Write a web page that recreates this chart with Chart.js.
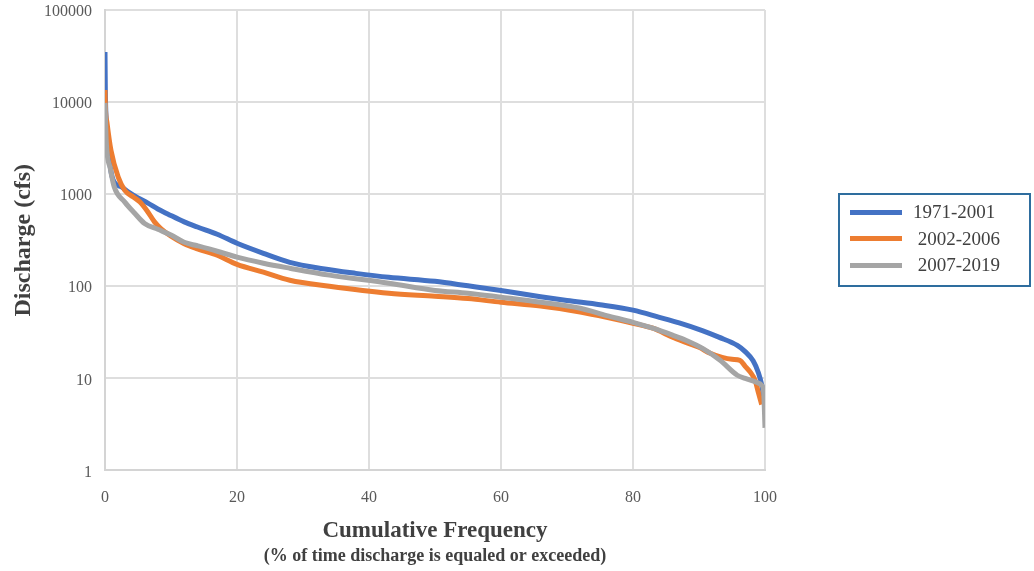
<!DOCTYPE html>
<html>
<head>
<meta charset="utf-8">
<script src="https://cdn.jsdelivr.net/npm/chart.js@4.4.1/dist/chart.umd.min.js"></script>
<style>
  body { margin: 0; background: #fff; }
  #wrap { position: relative; width: 1034px; height: 571px; }
  #legend {
    position: absolute; left: 838px; top: 193px; width: 189px; height: 86px;
    border: 2px solid #2e6d9e; padding-top: 4px; box-sizing: content-box;
    font-family: 'Liberation Serif', serif; font-size: 19px; color: #404040;
  }
  #legend .row { height: 26.5px; display: flex; align-items: center; white-space: pre; }
  #legend .sw { width: 52px; height: 5px; margin-left: 10px; margin-right: 11px; }
</style>
</head>
<body>
<div id="wrap">
  <canvas id="fdc" width="1034" height="571"></canvas>
  <div id="legend"></div>
</div>
<script>
// flow duration curves
const seriesLabels = ['1971-2001', ' 2002-2006', ' 2007-2019'];

const pct1971 = [0, 0.05, 0.2, 0.5, 1.2, 2.5, 3.5, 5, 6.5, 8, 9.5, 12, 14, 17, 20, 24, 28, 33, 38, 43,
  50, 55, 60, 66, 70, 75, 80, 84, 87, 90.5, 93, 95.8, 97, 98.2, 99, 99.5, 100];
const cfs1971 = [35000, 13500, 6000, 3000, 1450, 1200, 1060, 910, 800, 690, 610, 500, 440, 367, 293, 228, 182, 155, 138, 125,
  113, 101, 90, 77, 70, 63, 55, 46, 40, 33, 28, 22.8, 19.5, 15.5, 11.5, 8.5, 5];

const pct2002 = [0, 0.05, 0.3, 0.9, 2, 3, 4.3, 5.3, 6.5, 7.5, 8.5, 10, 12, 14, 17, 20, 24, 28, 34, 43,
  50, 55, 60, 66, 72, 76, 80, 83, 86, 88, 90, 91.7, 93.5, 95, 96.2, 97, 97.8, 98.5, 99, 99.5];
const cfs2002 = [13500, 9000, 6000, 3000, 1530, 1100, 930, 820, 640, 500, 420, 350, 290, 255, 217, 173, 142, 116, 100, 84,
  78, 73.5, 67, 61, 52.5, 46, 39.6, 35, 28, 24.6, 21.7, 18.7, 16.9, 16.1, 15.7, 13.5, 11.6, 9.5, 7, 5.2];

const pct2007 = [0, 0.2, 0.8, 1.4, 3, 4.5, 6, 8, 10, 12, 14, 17, 20, 24, 28, 34, 43, 50, 55, 60,
  66, 72, 76, 80, 83, 86, 88, 90.6, 93.2, 95.8, 97, 98.8, 99.5, 99.8, 100];
const cfs2007 = [9800, 3600, 1900, 1200, 820, 620, 480, 415, 360, 300, 275, 240, 207, 178, 157, 132, 108, 90, 84, 76,
  67, 57.6, 48, 40.6, 35, 29.4, 25.9, 21, 15.7, 10.8, 10, 9, 8.4, 7, 2.9];

const xTicks = [0, 20, 40, 60, 80, 100];
const yTicks = [1, 10, 100, 1000, 10000, 100000];

const colors = ['#4472c4', '#ed7d31', '#a5a5a5'];

Chart.defaults.font.family = "'Liberation Serif', serif";

const toPoints = (xs, ys) => xs.map((x, i) => ({ x: x, y: ys[i] }));
const seriesData = [
  toPoints(pct1971, cfs1971),
  toPoints(pct2002, cfs2002),
  toPoints(pct2007, cfs2007),
];

const datasets = seriesData.map((d, i) => ({
  label: seriesLabels[i].trim(),
  data: d,
  borderColor: colors[i],
  borderWidth: 5,
  pointRadius: 0,
  fill: false,
  cubicInterpolationMode: 'monotone',
  // Excel draws later series on top
  order: seriesData.length - i,
}));

new Chart(document.getElementById('fdc'), {
  type: 'line',
  data: { datasets: datasets },
  options: {
    responsive: false,
    animation: false,
    layout: { padding: { left: 0, right: 269, top: 0, bottom: 0 } },
    plugins: {
      legend: { display: false },
      tooltip: { enabled: false },
      subtitle: {
        display: true,
        text: '(% of time discharge is equaled or exceeded)',
        position: 'bottom',
        fullSize: false,
        color: '#404040',
        font: { size: 18, weight: 'bold' },
        padding: { top: 0, bottom: 4 },
      },
    },
    scales: {
      x: {
        type: 'linear',
        min: 0,
        max: 100,
        afterBuildTicks: s => { s.ticks = xTicks.map(v => ({ value: v })); },
        afterFit: s => { s.height = 75; },
        grid: { color: '#dedede', lineWidth: 2, drawTicks: false },
        border: { color: '#d4d4d4', width: 2 },
        ticks: { padding: 18, color: '#595959', font: { size: 16 } },
        title: {
          display: true,
          text: 'Cumulative Frequency',
          color: '#404040',
          font: { size: 23, weight: 'bold' },
          padding: { top: 0, bottom: 1 },
        },
      },
      y: {
        type: 'logarithmic',
        min: 1,
        max: 100000,
        afterBuildTicks: s => { s.ticks = yTicks.map(v => ({ value: v })); },
        afterFit: s => {
          s.width = 105;
          // tick padding would otherwise push the plot top down
          s.paddingTop = 10;
          s.paddingBottom = 10;
        },
        grid: { color: '#dedede', lineWidth: 2, drawTicks: false },
        border: { color: '#d4d4d4', width: 2 },
        ticks: { padding: 13, labelOffset: 2, color: '#595959', font: { size: 16 }, callback: v => String(v) },
        title: {
          display: true,
          text: 'Discharge (cfs)',
          color: '#404040',
          font: { size: 24, weight: 'bold' },
          padding: { top: 9, bottom: 0 },
        },
      },
    },
  },
});

// legend box on the right
const legend = document.getElementById('legend');
seriesLabels.forEach((lab, i) => {
  const row = document.createElement('div');
  row.className = 'row';
  const sw = document.createElement('span');
  sw.className = 'sw';
  sw.style.background = colors[i];
  const txt = document.createElement('span');
  txt.textContent = lab;
  row.appendChild(sw);
  row.appendChild(txt);
  legend.appendChild(row);
});
</script>
</body>
</html>
